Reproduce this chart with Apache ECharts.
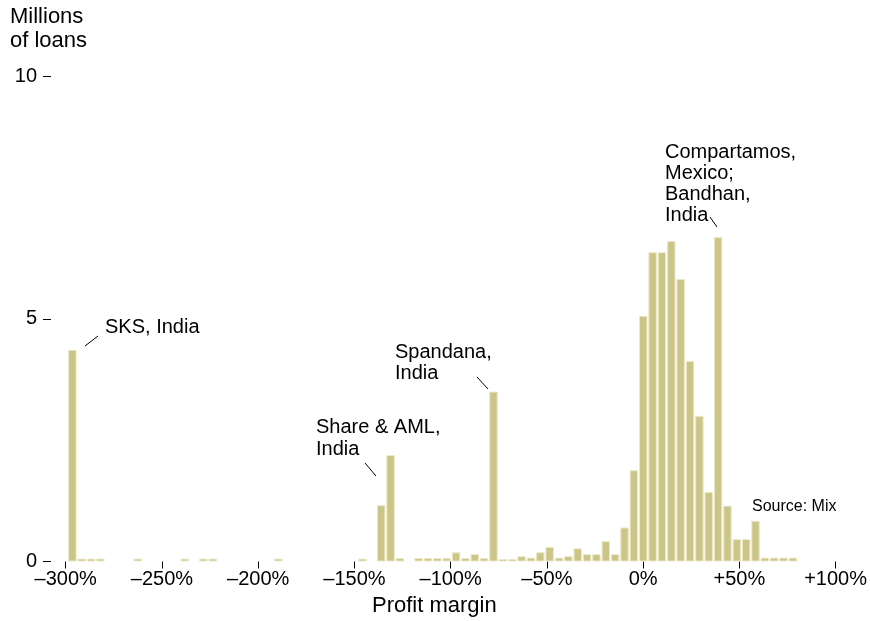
<!DOCTYPE html>
<html><head><meta charset="utf-8">
<script src="https://cdn.jsdelivr.net/npm/echarts@6/dist/echarts.min.js"></script>
<style>html,body{margin:0;padding:0;background:#fff}#c{width:870px;height:621px}</style>
</head><body><div id="c"></div>
<script>
// Histogram bins: lower edge of first bin and bin width (profit margin, %)
const binStart = -300;
const binWidth = 5;
// Millions of loans per bin (78 bins)
const loans = [
  4.36, 0.06, 0.06, 0.06, 0, 0, 0, 0.06, 0, 0,
  0, 0, 0.06, 0, 0.06, 0.06, 0, 0, 0, 0,
  0, 0, 0.06, 0, 0, 0, 0, 0, 0, 0,
  0, 0.06, 0, 1.16, 2.19, 0.07, 0, 0.07, 0.07, 0.07,
  0.07, 0.19, 0.07, 0.15, 0.07, 3.5, 0.05, 0.05, 0.11, 0.08,
  0.19, 0.3, 0.08, 0.11, 0.27, 0.15, 0.15, 0.42, 0.15, 0.7,
  1.88, 5.06, 6.37, 6.37, 6.6, 5.82, 4.13, 3.0, 1.43, 6.68,
  1.15, 0.46, 0.46, 0.84, 0.08, 0.08, 0.08, 0.08
];
// Axis tick values and labels
const xTicks = [-300, -250, -200, -150, -100, -50, 0, 50, 100];
const xTickLabels = ['–300%', '–250%', '–200%', '–150%', '–100%', '–50%', '0%', '+50%', '+100%'];
const yTicks = [0, 5, 10];
const yTickLabels = ['0', '5', '10'];
const yTitle = 'Millions\nof loans';
const xTitle = 'Profit margin';
const source = 'Source: Mix';
const notes = ['SKS, India', 'Share & AML,\nIndia', 'Spandana,\nIndia', 'Compartamos,\nMexico;\nBandhan,\nIndia'];

const FONT = '"Liberation Sans", Arial, Helvetica, sans-serif';
const barData = [];
loans.forEach((v, i) => { if (v > 0) barData.push([binStart + binWidth * (i + 0.5), v]); });

const chart = echarts.init(document.getElementById('c'), null, {renderer: 'canvas'});
const txt = (x, y, text, size, lh) => ({
  type: 'text', x: x, y: y, silent: true,
  style: {text: text, font: size + 'px ' + FONT, fill: '#000', verticalAlign: 'top', lineHeight: lh}
});
const ln = (x1, y1, x2, y2) => ({
  type: 'line', silent: true, shape: {x1, y1, x2, y2}, style: {stroke: '#000', lineWidth: 1}
});
chart.setOption({
  animation: false,
  backgroundColor: '#fff',
  grid: {left: 65.7, right: 31, top: 76, bottom: 59.5},
  xAxis: [{
    type: 'value', min: xTicks[0], max: xTicks[xTicks.length - 1], interval: xTicks[1] - xTicks[0],
    position: 'bottom',
    axisLine: {show: false, onZero: false},
    axisTick: {show: true, length: 7, lineStyle: {color: '#000', width: 1}},
    splitLine: {show: false},
    axisLabel: {
      margin: 8, fontSize: 20, fontFamily: FONT, color: '#000',
      formatter: v => xTickLabels[xTicks.indexOf(v)] || ''
    }
  }, {
    type: 'value', min: -301.06, max: 110.27, show: false
  }],
  yAxis: {
    type: 'value', min: yTicks[0], max: yTicks[yTicks.length - 1], interval: yTicks[1] - yTicks[0],
    position: 'left', offset: 14.7,
    axisLine: {show: false, onZero: false},
    axisTick: {show: true, length: 8, lineStyle: {color: '#000', width: 1}},
    splitLine: {show: false},
    axisLabel: {
      margin: 14, fontSize: 20, fontFamily: FONT, color: '#000',
      formatter: v => yTickLabels[yTicks.indexOf(v)] || ''
    }
  },
  series: [{
    type: 'bar', xAxisIndex: 1, yAxisIndex: 0,
    data: barData, barWidth: 8.4,
    itemStyle: {color: '#cbc587', borderColor: '#ebe7c6', borderWidth: 1}
  }],
  graphic: [
    txt(10, 5, yTitle, 22, 24),
    txt(372, 595, xTitle, 22, 22),
    txt(105, 317, notes[0], 20, 20),
    ln(85, 346, 98, 336),
    txt(316, 416, notes[1], 20, 22),
    ln(365, 463, 376, 476),
    txt(395, 342, notes[2], 20, 21),
    ln(477, 377, 488, 389),
    txt(665, 142, notes[3], 20, 21),
    ln(710, 217, 717, 227),
    txt(752, 499, source, 16, 16)
  ]
});
</script></body></html>
